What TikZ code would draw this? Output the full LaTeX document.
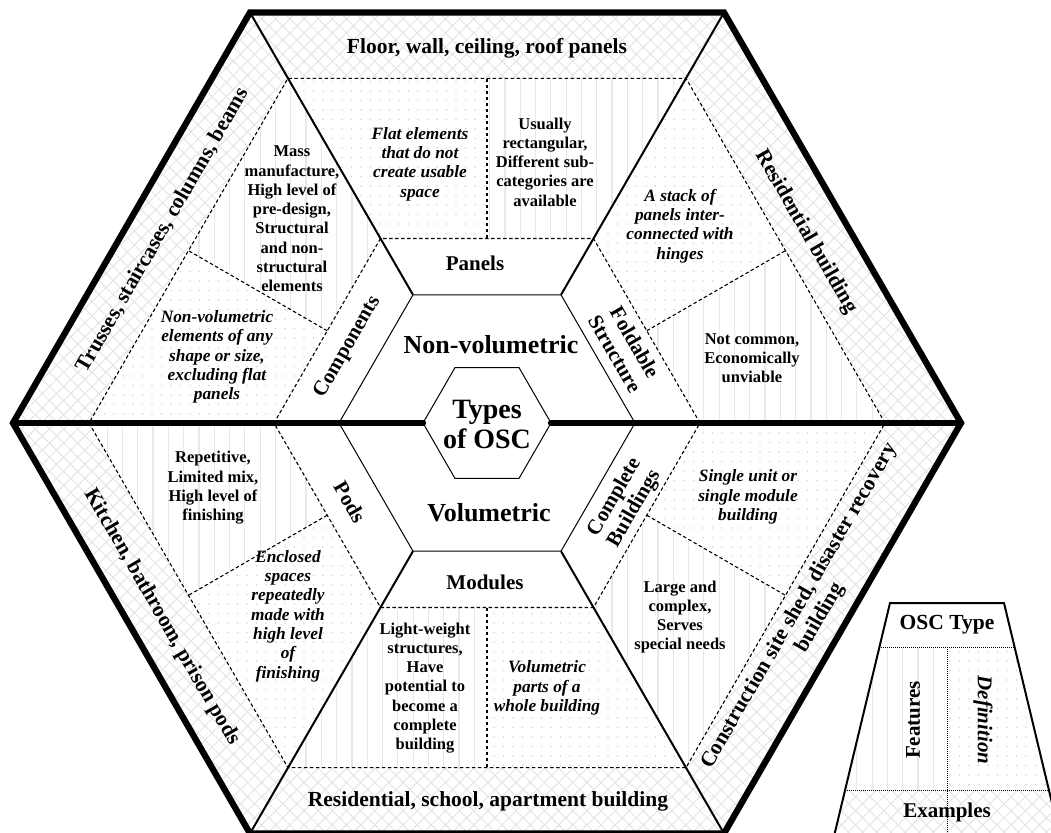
\documentclass[tikz,border=0pt]{standalone}
\usepackage{fontspec}
\setmainfont{Liberation Serif}
\usepackage{tikz}
\usetikzlibrary{calc,patterns,patterns.meta}

\tikzset{
  featfill/.style={pattern={Lines[angle=90,distance=15.3pt,line width=1.2pt]},pattern color=black!9},
  deffill/.style={pattern={Dots[distance=9.5pt,radius=0.8pt]},pattern color=black!16},
  exfill/.style={pattern={Hatch[angle=45,distance=10pt,line width=1pt]},pattern color=black!10},
  dashln/.style={line width=1.1pt,dash pattern=on 3.5pt off 2.5pt},
  dotln/.style={line width=0.6pt,dash pattern=on 1pt off 1pt},
  spoke/.style={line width=2pt},
  thinln/.style={line width=1pt},
  heavy/.style={line width=6.3pt},
  typelbl/.style={font=\fontsize{21}{23}\selectfont\bfseries,align=center},
  exlbl/.style={font=\fontsize{21.5}{24}\selectfont\bfseries,align=center},
  feat/.style={font=\fontsize{16.5}{19.3}\selectfont\bfseries,align=center},
  defn/.style={font=\fontsize{17.3}{19.3}\selectfont\bfseries\itshape,align=center},
}

\begin{document}
\begin{tikzpicture}[x=1pt,y=1pt]
  \useasboundingbox (-487,-409) rectangle (564,423);
  % corners of the nested hexagons
  \foreach \i/\a in {1/0,2/60,3/120,4/180,5/240,6/300}{
    \coordinate (in\i) at (\a:64);\coordinate (mid\i) at (\a:148);
    \coordinate (typ\i) at (\a:213);\coordinate (fea\i) at (\a:398);
    \coordinate (out\i) at (\a:474);
    \coordinate (sa\i) at (\a+30:184.5);\coordinate (sb\i) at (\a+30:344.7);}
  % one sector per OSC type
  \foreach \i [evaluate=\i as \j using {int(mod(\i,6)+1)}] in {1,...,6}{
    \fill[exfill] (fea\i) -- (out\i) -- (out\j) -- (fea\j) -- cycle;
    \fill[featfill] (typ\i) -- (fea\i) -- (sb\i) -- (sa\i) -- cycle;
    \fill[deffill] (sa\i) -- (sb\i) -- (fea\j) -- (typ\j) -- cycle;
    \draw[dashln] (sa\i) -- (sb\i);}
  \draw[dashln] (typ1) -- (typ2) -- (typ3) -- (typ4) -- (typ5) -- (typ6) -- cycle;
  \draw[dashln] (fea1) -- (fea2) -- (fea3) -- (fea4) -- (fea5) -- (fea6) -- cycle;
  \foreach \i in {2,3,5,6} \draw[spoke] (mid\i) -- (out\i);
  \draw[thinln] (mid1) -- (mid2) -- (mid3) -- (mid4) -- (mid5) -- (mid6) -- cycle;
  \draw[thinln,fill=white] (in1) -- (in2) -- (in3) -- (in4) -- (in5) -- (in6) -- cycle;
  \draw[heavy,line cap=round] (in1) -- (out1);\draw[heavy,line cap=round] (in4) -- (out4);
  \draw[heavy,line join=miter] (out1) -- (out2) -- (out3) -- (out4) -- (out5) -- (out6) -- cycle;

  \node[font=\fontsize{28}{30}\selectfont\bfseries,align=center] (osc) at (0,-1) {Types\\of OSC};
  \node[font=\fontsize{26}{28}\selectfont\bfseries] (nonvol) at (4,78) {Non-volumetric};
  \node[font=\fontsize{26}{28}\selectfont\bfseries] (vol) at (2,-90) {Volumetric};

  \node[typelbl] (panels) at (-12,159.5) {Panels};
  \node[typelbl] (modules) at (-2,-159) {Modules};
  \node[typelbl,rotate=60] (comp) at (-139,76) {Components};
  \node[typelbl,rotate=-60] (fold) at (138,75) {Foldable\\Structure};
  \node[typelbl,rotate=60] (compl) at (138,-80) {Complete\\Buildings};
  \node[typelbl,rotate=-60] (pods) at (-137,-79) {Pods};

  \node[exlbl] (expanels) at (0,375) {Floor, wall, ceiling, roof panels};
  \node[exlbl,rotate=60] (excomp) at (-324,193) {Trusses, staircases, columns, beams};
  \node[exlbl,rotate=-60] (exfold) at (319,191) {Residential building};
  \node[exlbl,rotate=60] (excompl) at (323,-189) {Construction site shed, disaster recovery\\building};
  \node[exlbl,rotate=-60] (expods) at (-325,-194) {Kitchen, bathroom, prison pods};
  \node[exlbl] (exmodules) at (1,-378.7) {Residential, school, apartment building};

  \node[defn] (defpanels) at (-67,259) {Flat elements\\that do not\\create usable\\space};
  \node[feat] (featpanels) at (58,261) {Usually\\rectangular,\\Different sub-\\categories are\\available};
  \node[feat] (featcomp) at (-195,204) {Mass\\manufacture,\\High level of\\pre-design,\\Structural\\and non-\\structural\\elements};
  \node[defn] (defcomp) at (-270,66) {Non-volumetric\\elements of any\\shape or size,\\excluding flat\\panels};
  \node[defn] (deffold) at (193,197) {A stack of\\panels inter-\\connected with\\hinges};
  \node[feat] (featfold) at (265,65) {Not common,\\Economically\\unviable};
  \node[defn] (defcompl) at (261,-74) {Single unit or\\single module\\building};
  \node[feat] (featcompl) at (193,-194) {Large and\\complex,\\Serves\\special needs};
  \node[feat] (featmod) at (-62,-265) {Light-weight\\structures,\\Have\\potential to\\become a\\complete\\building};
  \node[defn] (defmod) at (60,-265) {Volumetric\\parts of a\\whole building};
  \node[feat] (featpods) at (-274,-65) {Repetitive,\\Limited mix,\\High level of\\finishing};
  \node[defn] (defpods) at (-199,-193) {Enclosed\\spaces\\repeatedly\\made with\\high level\\of\\finishing};

  % key
  \coordinate (lgA) at (403,-180);\coordinate (lgB) at (517,-180);
  \coordinate (lgC) at (576.3,-427);\coordinate (lgD) at (343.7,-427);
  \coordinate (lgE) at ($(lgA)!0.1794!(lgD)$);\coordinate (lgF) at ($(lgB)!0.1794!(lgC)$);
  \coordinate (lgG) at ($(lgA)!0.757!(lgD)$);\coordinate (lgH) at ($(lgB)!0.757!(lgC)$);
  \coordinate (lgM1) at ($(lgE)!0.5!(lgF)$);\coordinate (lgM2) at ($(lgG)!0.5!(lgH)$);
  \coordinate (lgM3) at ($(lgD)!0.5!(lgC)$);
  \fill[exfill] (lgG) -- (lgH) -- (lgC) -- (lgD) -- cycle;
  \fill[featfill] (lgE) -- (lgM1) -- (lgM2) -- (lgG) -- cycle;
  \fill[deffill] (lgM1) -- (lgF) -- (lgH) -- (lgM2) -- cycle;
  \draw[dotln] (lgE) -- (lgF) (lgG) -- (lgH) (lgM1) -- (lgM3);
  \draw[line width=2pt] (lgD) -- (lgA) -- (lgB) -- (lgC);
  \node[typelbl,font=\fontsize{21.5}{24}\selectfont\bfseries] (lgtype) at (460,-202) {OSC Type};
  \node[typelbl,rotate=90] (lgfeat) at (426,-297) {Features};
  \node[typelbl,font=\fontsize{21}{23}\selectfont\bfseries\itshape,rotate=-90] (lgdef) at (496,-297) {Definition};
  \node[typelbl] (lgex) at (460,-389) {Examples};
\end{tikzpicture}
\end{document}
